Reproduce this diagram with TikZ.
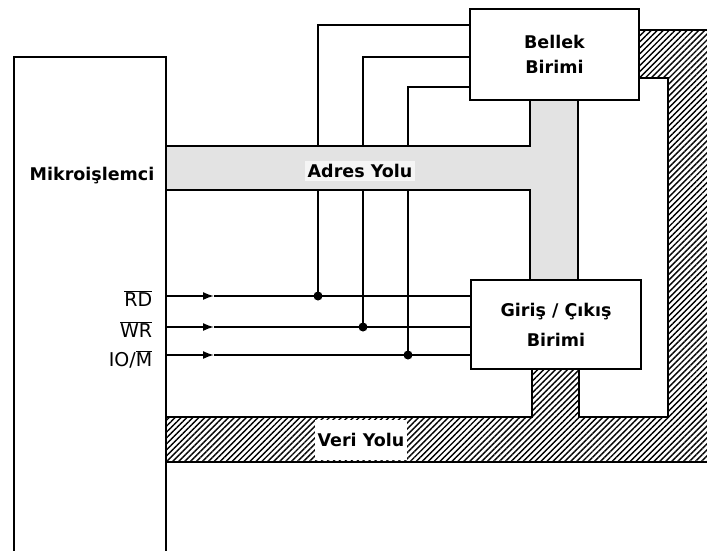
\documentclass[tikz,border=0pt]{standalone}
\usepackage{fontspec}
\setmainfont{DejaVu Sans}
\usetikzlibrary{patterns.meta,arrows.meta}
\begin{document}
\begin{tikzpicture}[x=1pt,y=-1pt, line width=1.7pt,
  box/.style={draw, fill=white, font=\bfseries\fontsize{17.5}{25}\selectfont, align=center, inner sep=0pt},
  lbl/.style={font=\bfseries\fontsize{17.5}{20}\selectfont, inner sep=3pt},
  sig/.style={font=\fontsize{19}{20}\selectfont, anchor=east, inner sep=0pt},
  hatch/.style={pattern={Lines[angle=45,distance=4.2pt,line width=1.4pt]}},
  abus/.style={fill=black!11},
  tip/.style={-{Latex[length=11pt,width=8pt]}},
  dot/.style={circle, fill, inner sep=0pt, minimum size=9pt}]
\useasboundingbox (0,0) rectangle (707,551);
% address bus
\draw[abus] (166,146) -- (530,146) -- (530,100) -- (578,100) -- (578,280) -- (530,280) -- (530,190) -- (166,190);
% data bus
\path[hatch] (166,417) -- (532,417) -- (532,369) -- (579,369) -- (579,417) -- (668,417) -- (668,78) -- (639,78) -- (639,30) -- (707,30) -- (707,462) -- (166,462) -- cycle;
\draw (166,417) -- (532,417) -- (532,369);
\draw (579,369) -- (579,417) -- (668,417) -- (668,78) -- (639,78);
\draw (639,30) -- (710,30);
\draw (166,462) -- (710,462);
% microprocessor
\draw (14,551) -- (14,57) -- (166,57) -- (166,551);
\node[lbl] (mp) at (92,176) {Mikroişlemci};
% boxes
\node[box, minimum width=169pt, minimum height=91pt] (mem) at (554.5,54.5) {Bellek\\Birimi};
\node[box, minimum width=170pt, minimum height=89pt] (io) at (556,324.5) {Giriş / Çıkış\\[5pt]Birimi};
% labels on buses
\node[lbl, fill=black!4] (ab) at (360,171) {Adres Yolu};
\node[lbl, fill=white, minimum height=40pt] (db) at (361,440) {Veri Yolu};
% address lines above bus
\coordinate (a1) at (318,146); \coordinate (a1t) at (318,25);
\coordinate (a2) at (363,146); \coordinate (a2t) at (363,57);
\coordinate (a3) at (408,146); \coordinate (a3t) at (408,87);
\draw (a1) -- (a1t) -- (a1t -| mem.west);
\draw (a2) -- (a2t) -- (a2t -| mem.west);
\draw (a3) -- (a3t) -- (a3t -| mem.west);
% control lines
\coordinate (rd) at (166,296); \coordinate (rdm) at (214,296);
\coordinate (wr) at (166,327); \coordinate (wrm) at (214,327);
\coordinate (iom) at (166,355); \coordinate (iomm) at (214,355);
\draw[tip] (rd) -- (rdm); \draw (rdm) -- (rd -| io.west);
\draw[tip] (wr) -- (wrm); \draw (wrm) -- (wr -| io.west);
\draw[tip] (iom) -- (iomm); \draw (iomm) -- (iom -| io.west);
% dots and lines below bus
\node[dot] (d1) at (318,296) {};
\node[dot] (d2) at (363,327) {};
\node[dot] (d3) at (408,355) {};
\coordinate (b1) at (318,190); \coordinate (b2) at (363,190); \coordinate (b3) at (408,190);
\draw (b1) -- (d1.center);
\draw (b2) -- (d2.center);
\draw (b3) -- (d3.center);
% signal labels
\node[sig] (lrd) at (153,299) {$\overline{\hbox{RD}}$};
\node[sig] (lwr) at (153,330) {$\overline{\hbox{WR}}$};
\node[sig] (lio) at (153,359) {IO/$\overline{\hbox{M}}$};
\end{tikzpicture}
\end{document}
